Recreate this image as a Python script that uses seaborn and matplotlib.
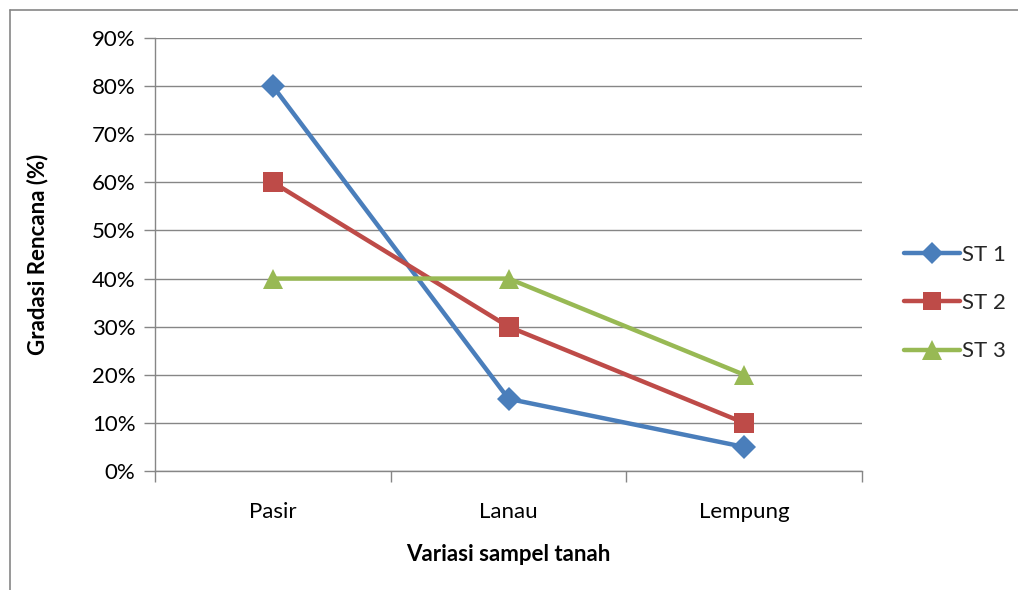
import matplotlib
matplotlib.use("Agg")
import matplotlib.pyplot as plt
import seaborn as sns
import pandas as pd
import numpy as np
from matplotlib.lines import Line2D
from matplotlib.ticker import FixedLocator, PercentFormatter

categories = ["Pasir", "Lanau", "Lempung"]
st1 = [0.80, 0.15, 0.05]
st2 = [0.60, 0.30, 0.10]
st3 = [0.40, 0.40, 0.20]
series_names = ["ST 1", "ST 2", "ST 3"]
y_ticks = [0.0, 0.1, 0.2, 0.3, 0.4, 0.5, 0.6, 0.7, 0.8, 0.9]

rows = []
for name, vals in zip(series_names, [st1, st2, st3]):
    for i, (c, v) in enumerate(zip(categories, vals)):
        rows.append({"idx": i, "Kategori": c, "Nilai": v, "Seri": name})
df = pd.DataFrame(rows)

sns.set_theme(style="white")
plt.rcParams['font.family'] = ['Lato', 'DejaVu Sans']

FS = 16
colors = {"ST 1": "#4A7EBB", "ST 2": "#BE4B48", "ST 3": "#98B954"}
markers = {"ST 1": "D", "ST 2": "s", "ST 3": "^"}
msize = {"ST 1": 12.5, "ST 2": 14, "ST 3": 15}

fig = plt.figure(figsize=(10.18, 5.90), dpi=100)
ax = fig.add_axes([155/1018, 1-471/590, (862-155)/1018, (471-38)/590])

sns.lineplot(data=df, x="idx", y="Nilai", hue="Seri", style="Seri",
             palette=colors, markers=markers, dashes=False, linewidth=3.2,
             markersize=12, markeredgewidth=0, ax=ax, legend=False, sort=False)
for line, name in zip(ax.get_lines(), series_names):
    line.set_markersize(msize[name])

ax.set_xlim(-0.5, 2.5)
ax.set_ylim(0, 0.9)
ax.yaxis.set_major_locator(FixedLocator(y_ticks))
ax.yaxis.set_major_formatter(PercentFormatter(1.0, decimals=0))
ax.set_xticks(range(len(categories)))
ax.set_xticklabels(categories)
ax.xaxis.set_minor_locator(FixedLocator([-0.5, 0.5, 1.5, 2.5]))
ax.tick_params(axis="x", which="major", length=0, pad=22, labelsize=FS, labelcolor="black")
ax.tick_params(axis="x", which="minor", length=8, width=1, color="#868686", bottom=True, direction="out")
ax.tick_params(axis="y", which="major", length=8, width=1, color="#868686", left=True,
               direction="out", pad=6, labelsize=FS, labelcolor="black")
ax.grid(axis="y", color="#868686", linewidth=1)
ax.set_axisbelow(True)
for s in ["top", "right"]:
    ax.spines[s].set_visible(False)
for s in ["left", "bottom"]:
    ax.spines[s].set_color("#868686")
    ax.spines[s].set_linewidth(1)

ax.set_xlabel("Variasi sampel tanah", fontsize=FS, fontweight="bold", labelpad=16, color="black")
ax.set_ylabel("Gradasi Rencana (%)", fontsize=FS, fontweight="bold", labelpad=31, color="black")

handles = [Line2D([0], [0], color=colors[n], marker=markers[n], linewidth=3.2,
                  markersize=msize[n] - 1, markeredgewidth=0) for n in series_names]
fig.legend(handles, series_names, loc="center left", bbox_to_anchor=(884/1018, 1-303/590),
           frameon=False, fontsize=FS, handlelength=2.5, handletextpad=0.1, labelspacing=1.28)

# outer chart frame (left & top visible)
fig.add_artist(Line2D([10/1018, 10/1018], [0, 1-10/590], color="#868686", linewidth=1.2))
fig.add_artist(Line2D([10/1018, 1], [1-10/590, 1-10/590], color="#868686", linewidth=1.2))

fig.savefig("out.png", dpi=100)
